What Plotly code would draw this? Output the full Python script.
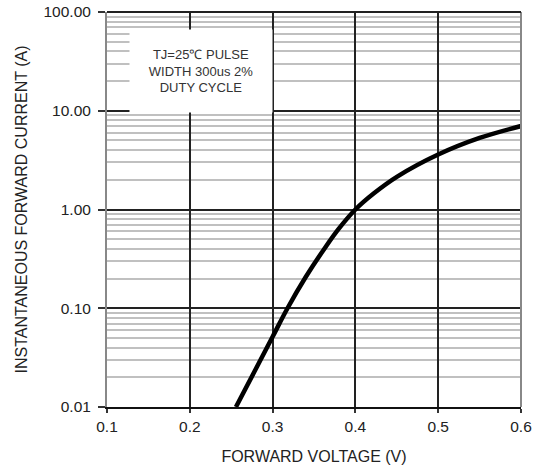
import plotly.graph_objects as go

voltage = [0.2557, 0.28, 0.30, 0.318, 0.34, 0.364, 0.38, 0.40, 0.422, 0.45, 0.50, 0.55, 0.60]
current = [0.01, 0.0245, 0.0514, 0.1, 0.207, 0.418, 0.64, 1.0, 1.45, 2.14, 3.6, 5.3, 7.0]

x_ticks = [0.1, 0.2, 0.3, 0.4, 0.5, 0.6]
x_tick_text = ["0.1", "0.2", "0.3", "0.4", "0.5", "0.6"]
y_ticks = [0.01, 0.1, 1, 10, 100]
y_tick_text = ["0.01", "0.10", "1.00", "10.00", "100.00"]

font_family = "Liberation Sans, Arial, sans-serif"

fig = go.Figure()
fig.add_trace(go.Scatter(
    x=voltage, y=current, mode="lines",
    line=dict(color="black", width=4.5, shape="spline", smoothing=1.0),
    showlegend=False, hoverinfo="skip"))

fig.update_layout(
    width=547, height=468,
    margin=dict(l=107, r=26, t=12, b=61),
    plot_bgcolor="white", paper_bgcolor="white",
    font=dict(family=font_family, size=15, color="#222"),
    xaxis=dict(
        range=[0.1, 0.6], tickvals=x_ticks, ticktext=x_tick_text,
        showgrid=True, gridcolor="#222", gridwidth=1.8,
        showline=True, linecolor="#111", linewidth=2, mirror=False,
        ticks="outside", ticklen=4, tickcolor="#333", tickwidth=1.5,
        zeroline=False, tickfont=dict(size=15.5), automargin=False,
        title=dict(text="FORWARD VOLTAGE (V)", font=dict(size=16, color="#222"), standoff=17),
    ),
    yaxis=dict(
        type="log", range=[-2, 2], tickvals=y_ticks, ticktext=y_tick_text,
        showgrid=True, gridcolor="#222", gridwidth=1.8,
        showline=True, linecolor="#888", linewidth=2, mirror=False,
        ticks="outside", ticklen=7, tickcolor="#333", tickwidth=1.5,
        zeroline=False, tickfont=dict(size=15.5), ticklabelstandoff=4, automargin=False,
        minor=dict(dtick="D1", showgrid=True, gridcolor="#c0c0c0", gridwidth=1.5, ticks=""),
        title=dict(text="INSTANTANEOUS FORWARD CURRENT (A)", font=dict(size=16, color="#222"), standoff=12),
    ),
    shapes=[
        dict(type="line", xref="paper", yref="paper", x0=1, x1=1, y0=0, y1=1,
             line=dict(color="#888", width=2)),
        dict(type="line", xref="paper", yref="paper", x0=0, x1=1, y0=1, y1=1,
             line=dict(color="#222", width=2)),
    ],
    annotations=[
        dict(xref="paper", yref="paper", x=(201 - 107) / 414, y=1 - (71 - 12) / 395,
             xanchor="center", yanchor="middle", showarrow=False,
             text="TJ=25℃ PULSE<br>WIDTH 300us 2%<br>DUTY CYCLE",
             font=dict(size=13, color="#333", family=font_family),
             bgcolor="white", width=140, height=80, align="center"),
    ],
)

fig.write_html("out.html")
